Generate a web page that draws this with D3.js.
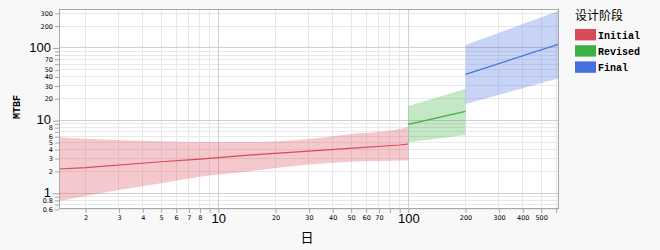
<!DOCTYPE html>
<html>
<head>
<meta charset="utf-8">
<script src="https://cdn.jsdelivr.net/npm/d3@7"></script>
<style>
  html, body { margin: 0; padding: 0; background: #f8f8f8; }
  svg { display: block; }
</style>
</head>
<body>
<svg id="chart" width="660" height="250"></svg>
<script>
// ---- Data ----
const phases = ["Initial", "Revised", "Final"];
const phaseColors = ["#d94a57", "#3bb143", "#4471e0"];

const initialDays  = [1.45, 2, 5, 8, 15, 30, 49, 90, 100];
const initialMTBF  = [2.16, 2.25, 2.72, 2.96, 3.37, 3.8, 4.16, 4.62, 4.77];
const initialLower = [0.78, 0.92, 1.37, 1.69, 2.03, 2.5, 2.72, 2.82, 2.86];
const initialUpper = [5.89, 5.64, 5.19, 5.08, 5.1, 5.6, 6.5, 7.66, 8.24];

const revisedDays  = [100, 200];
const revisedMTBF  = [8.9, 13.4];
const revisedLower = [5.03, 6.34];
const revisedUpper = [15.9, 27.2];

const finalDays  = [200, 621];
const finalMTBF  = [43.3, 113];
const finalLower = [16.9, 38.2];
const finalUpper = [109.6, 325];

const xDomain = [1.45, 621];
const yDomain = [0.608, 344];

const xTickLabels = [2, 3, 4, 5, 6, 7, 8, 20, 30, 40, 50, 60, 70, 200, 300, 400, 500];
const xMajorTicks = [10, 100];
const xPlainTicks = [9, 80, 90, 600];
const yTickLabels = [0.6, 0.8, 2, 3, 4, 5, 6, 8, 20, 30, 40, 50, 70, 200, 300];
const yMajorTicks = [1, 10, 100];
const yPlainTicks = [0.7, 0.9, 7, 9, 60, 80, 90];

const xTitle = "日";
const yTitle = "MTBF";
const legendTitle = "设计阶段";

// ---- Layout ----
const svg = d3.select("#chart");
const L = 59, R = 559, T = 9, B = 209;

const x = d3.scaleLog().domain(xDomain).range([L, R]);
const y = d3.scaleLog().domain(yDomain).range([B, T]);

// plot background
svg.append("rect").attr("x", L).attr("y", T).attr("width", R - L).attr("height", B - T)
  .attr("fill", "#ffffff");

// gridlines
const allX = [...xTickLabels, ...xPlainTicks];
const allY = [...yTickLabels, ...yPlainTicks];
const grid = svg.append("g").attr("shape-rendering", "crispEdges");
grid.selectAll(".gx").data(allX).enter().append("line")
  .attr("x1", d => x(d)).attr("x2", d => x(d)).attr("y1", T).attr("y2", B)
  .attr("stroke", "#e8e8e8");
grid.selectAll(".gy").data(allY).enter().append("line")
  .attr("y1", d => y(d)).attr("y2", d => y(d)).attr("x1", L).attr("x2", R)
  .attr("stroke", "#e8e8e8");
grid.selectAll(".gxm").data(xMajorTicks).enter().append("line")
  .attr("x1", d => x(d)).attr("x2", d => x(d)).attr("y1", T).attr("y2", B)
  .attr("stroke", "#d0d0d0");
grid.selectAll(".gym").data(yMajorTicks).enter().append("line")
  .attr("y1", d => y(d)).attr("y2", d => y(d)).attr("x1", L).attr("x2", R)
  .attr("stroke", "#d0d0d0");

// clip
svg.append("clipPath").attr("id", "clip").append("rect")
  .attr("x", L).attr("y", T).attr("width", R - L).attr("height", B - T);

const series = [
  { days: initialDays, mtbf: initialMTBF, lower: initialLower, upper: initialUpper },
  { days: revisedDays, mtbf: revisedMTBF, lower: revisedLower, upper: revisedUpper },
  { days: finalDays, mtbf: finalMTBF, lower: finalLower, upper: finalUpper }
];

const plot = svg.append("g").attr("clip-path", "url(#clip)");
series.forEach((s, i) => {
  const pts = s.days.map((d, k) => ({ d, m: s.mtbf[k], lo: s.lower[k], hi: s.upper[k] }));
  const area = d3.area().x(p => x(p.d)).y0(p => y(p.lo)).y1(p => y(p.hi)).curve(d3.curveMonotoneX);
  plot.append("path").attr("d", area(pts)).attr("fill", phaseColors[i]).attr("fill-opacity", 0.3);
  const line = d3.line().x(p => x(p.d)).y(p => y(p.m));
  plot.append("path").attr("d", line(pts)).attr("fill", "none")
    .attr("stroke", phaseColors[i]).attr("stroke-width", 1.2);
});

// frame
svg.append("rect").attr("x", L + 0.5).attr("y", T + 0.5).attr("width", R - L - 1).attr("height", B - T - 1)
  .attr("fill", "none").attr("stroke", "#a8a8a8");

// x axis
const gx = svg.append("g").attr("transform", `translate(0,${B})`)
  .call(d3.axisBottom(x).tickValues(xTickLabels).tickSize(4).tickPadding(2).tickFormat(d3.format("d")));
gx.select(".domain").remove();
gx.selectAll("line").attr("stroke", "#a8a8a8");
gx.selectAll("text").attr("font-family", "DejaVu Sans, sans-serif").attr("font-size", 6.5).attr("fill", "#000");

const gxp = svg.append("g").attr("transform", `translate(0,${B})`)
  .call(d3.axisBottom(x).tickValues(xPlainTicks).tickSize(4).tickFormat(""));
gxp.select(".domain").remove();
gxp.selectAll("line").attr("stroke", "#a8a8a8");

const gxm = svg.append("g").attr("transform", `translate(0,${B})`)
  .call(d3.axisBottom(x).tickValues(xMajorTicks).tickSize(4).tickPadding(1).tickFormat(d3.format("d")));
gxm.select(".domain").remove();
gxm.selectAll("line").attr("stroke", "#a8a8a8");
gxm.selectAll("text").attr("font-family", "Liberation Sans, Arial, sans-serif").attr("font-size", 13).attr("fill", "#000");

// y axis
const gy = svg.append("g").attr("transform", `translate(${L},0)`)
  .call(d3.axisLeft(y).tickValues(yTickLabels).tickSize(4).tickPadding(2).tickFormat(d3.format("~g")));
gy.select(".domain").remove();
gy.selectAll("line").attr("stroke", "#a8a8a8");
gy.selectAll("text").attr("font-family", "DejaVu Sans, sans-serif").attr("font-size", 6.5).attr("fill", "#000");

const gyp = svg.append("g").attr("transform", `translate(${L},0)`)
  .call(d3.axisLeft(y).tickValues(yPlainTicks).tickSize(4).tickFormat(""));
gyp.select(".domain").remove();
gyp.selectAll("line").attr("stroke", "#a8a8a8");

const gym = svg.append("g").attr("transform", `translate(${L},0)`)
  .call(d3.axisLeft(y).tickValues(yMajorTicks).tickSize(6).tickPadding(2).tickFormat(d3.format("d")));
gym.select(".domain").remove();
gym.selectAll("line").attr("stroke", "#a8a8a8");
gym.selectAll("text").attr("font-family", "Liberation Sans, Arial, sans-serif").attr("font-size", 13)
  .attr("fill", "#000").attr("dy", "0.25em");

// titles
svg.append("text").attr("x", (L + R) / 2 - 2).attr("y", 242).attr("text-anchor", "middle")
  .attr("font-family", "Noto Sans CJK SC, sans-serif").attr("font-size", 13).attr("fill", "#000").text(xTitle);
svg.append("text").attr("transform", "translate(20,107) rotate(-90)").attr("text-anchor", "middle")
  .attr("font-family", "Liberation Mono, DejaVu Sans Mono, monospace").attr("font-weight", "bold")
  .attr("font-size", 10).attr("fill", "#000").text(yTitle);

// legend
const lg = svg.append("g");
lg.append("text").attr("x", 575).attr("y", 20).attr("font-family", "Noto Sans CJK SC, sans-serif")
  .attr("font-size", 12).attr("fill", "#000").text(legendTitle);
phases.forEach((p, i) => {
  lg.append("rect").attr("x", 575).attr("y", 29 + i * 16.2).attr("width", 21).attr("height", 11.4)
    .attr("fill", phaseColors[i]);
  lg.append("text").attr("x", 598).attr("y", 38.5 + i * 16.2)
    .attr("font-family", "Liberation Mono, DejaVu Sans Mono, monospace").attr("font-size", 10)
    .attr("font-weight", "bold").attr("fill", "#000").text(p);
});
</script>
</body>
</html>
